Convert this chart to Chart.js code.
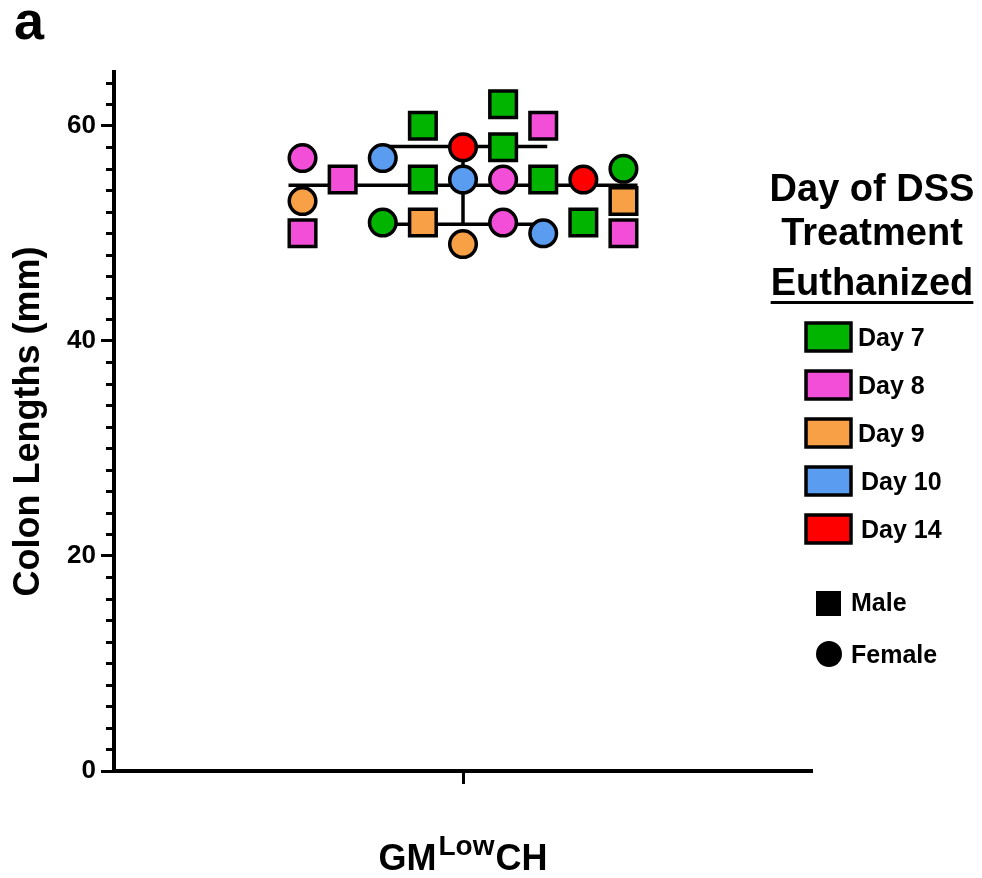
<!DOCTYPE html>
<html>
<head>
<meta charset="utf-8">
<title>Colon lengths</title>
<script src="https://cdn.jsdelivr.net/npm/chart.js@4.4.0/dist/chart.umd.min.js"></script>
<style>
  html, body { margin: 0; padding: 0; background: #fff; }
  #wrap { width: 982px; height: 878px; }
</style>
</head>
<body>
<div id="wrap"><canvas id="myChart" width="982" height="878"></canvas></div>
<script>
// legend groups: day of DSS treatment at euthanasia
const DAY_NUM = [7, 8, 9, 10, 14];
const DAY_COLORS = ["#00B400", "#F24ED8", "#F8A046", "#5A9CF0", "#FF0000"];

// group label: base, superscript, base
const GROUP_LABEL = ["GM", "Low", "CH"];

// one entry per mouse: horizontal slot in the scatter, colon length, day, sex
const SLOT = [-4, -4, -4, -3, -2, -2, -1, -1, -1, 0, 0, 0, 1, 1, 1, 1, 2, 2, 2, 3, 3, 4, 4, 4];
const LENGTH = [57, 53, 50, 55, 57, 51, 60, 55, 51, 58, 55, 49, 62, 58, 55, 51, 60, 55, 50, 55, 51, 56, 53, 50];
const DAY = [8, 9, 8, 8, 10, 7, 7, 7, 9, 14, 10, 9, 7, 7, 8, 8, 8, 7, 10, 14, 7, 7, 9, 8];
const SEX = ["F", "F", "M", "M", "F", "F", "M", "M", "M", "F", "F", "F", "M", "M", "F", "F", "M", "M", "F", "F", "M", "F", "M", "M"];

const Y_TICKS = [0, 20, 40, 60];

const mean = LENGTH.reduce((a, b) => a + b, 0) / LENGTH.length;
const sd = Math.sqrt(LENGTH.reduce((a, v) => a + (v - mean) ** 2, 0) / (LENGTH.length - 1));

const FONT = "'Liberation Sans', Arial, Helvetica, sans-serif";
Chart.defaults.font.family = FONT;
Chart.defaults.color = "#000";

const lineStyle = {
  type: "line",
  showLine: true,
  borderColor: "#000",
  borderWidth: 3.5,
  pointRadius: 0,
  fill: false,
  order: 1,
};

// minor ticks, panel letter, group label and the legend
const decor = {
  id: "decor",
  afterDraw(chart) {
    const ctx = chart.ctx;
    const y = chart.scales.y;
    const x = chart.scales.x;
    const left = chart.chartArea.left;
    const right = chart.chartArea.right;
    ctx.save();

    // minor ticks every 2 mm
    ctx.strokeStyle = "#000";
    ctx.lineWidth = 3;
    for (let v = 2; v <= y.max; v += 2) {
      if (v % 20 === 0) continue;
      const py = Math.round(y.getPixelForValue(v)) + 0.5;
      ctx.beginPath();
      ctx.moveTo(left - 8, py);
      ctx.lineTo(left, py);
      ctx.stroke();
    }

    ctx.fillStyle = "#000";
    ctx.textBaseline = "alphabetic";

    // panel letter
    ctx.font = "bold 54px " + FONT;
    ctx.textAlign = "left";
    ctx.fillText("a", 14, 39);

    // group label with superscript
    const cx = x.getPixelForValue(0);
    const big = "bold 36px " + FONT;
    const small = "bold 28px " + FONT;
    ctx.font = big;
    const w1 = ctx.measureText(GROUP_LABEL[0]).width;
    const w3 = ctx.measureText(GROUP_LABEL[2]).width;
    ctx.font = small;
    const w2 = ctx.measureText(GROUP_LABEL[1]).width;
    let gx = cx - (w1 + w2 + w3 + 3) / 2;
    ctx.font = big;
    ctx.fillText(GROUP_LABEL[0], gx, 870);
    gx += w1 + 2;
    ctx.font = small;
    ctx.fillText(GROUP_LABEL[1], gx, 855);
    gx += w2 + 1;
    ctx.font = big;
    ctx.fillText(GROUP_LABEL[2], gx, 870);

    // legend title
    const lx = right + 60;
    ctx.textAlign = "center";
    ctx.font = "bold 38px " + FONT;
    ctx.fillText("Day of DSS", lx, 201);
    ctx.fillText("Treatment", lx, 245);
    ctx.fillText("Euthanized", lx, 295);
    const tw = ctx.measureText("Euthanized").width;
    ctx.fillRect(lx - tw / 2, 301, tw, 3);

    // colour boxes
    ctx.textAlign = "left";
    ctx.textBaseline = "middle";
    ctx.font = "bold 25px " + FONT;
    DAY_NUM.forEach((d, i) => {
      const by = 337 + i * 48;
      ctx.fillStyle = DAY_COLORS[i];
      ctx.fillRect(806, by - 14, 45, 28);
      ctx.lineWidth = 3.5;
      ctx.strokeStyle = "#000";
      ctx.strokeRect(806, by - 14, 45, 28);
      ctx.fillStyle = "#000";
      ctx.fillText("Day " + d, d >= 10 ? 861 : 858, by + 2);
    });

    // sex symbols
    ctx.fillRect(816, 591, 25, 25);
    ctx.fillText("Male", 851, 604);
    ctx.beginPath();
    ctx.arc(829, 654, 13, 0, Math.PI * 2);
    ctx.fill();
    ctx.fillText("Female", 851, 656);

    ctx.restore();
  },
};

const config = {
  type: "scatter",
  data: {
    datasets: [
      {
        label: "Colon length",
        data: SLOT.map((s, i) => ({ x: s, y: LENGTH[i] })),
        pointStyle: (c) => (SEX[c.dataIndex] === "M" ? "rect" : "circle"),
        pointRadius: (c) => (SEX[c.dataIndex] === "M" ? 18.8 : 13.3),
        pointHoverRadius: (c) => (SEX[c.dataIndex] === "M" ? 18.8 : 13.3),
        backgroundColor: (c) => DAY_COLORS[DAY_NUM.indexOf(DAY[c.dataIndex])],
        borderColor: "#000",
        borderWidth: 3.5,
        order: 0,
      },
      // mean
      Object.assign({ data: [{ x: -4.35, y: mean }, { x: 4.35, y: mean }] }, lineStyle),
      // +/- SD
      Object.assign({ data: [{ x: -2.1, y: mean + sd }, { x: 2.1, y: mean + sd }] }, lineStyle),
      Object.assign({ data: [{ x: -2.1, y: mean - sd }, { x: 2.1, y: mean - sd }] }, lineStyle),
      Object.assign({ data: [{ x: 0, y: mean - sd }, { x: 0, y: mean + sd }] }, lineStyle),
    ],
  },
  options: {
    responsive: false,
    animation: false,
    events: [],
    layout: { padding: { top: 72, right: 170, left: 0, bottom: 0 } },
    plugins: {
      legend: { display: false },
      tooltip: { enabled: false },
    },
    scales: {
      x: {
        type: "linear",
        min: -8.7,
        max: 8.7,
        afterBuildTicks: (s) => { s.ticks = [{ value: 0 }]; },
        afterFit: (s) => { s.height = 107; },
        ticks: { callback: () => "" },
        border: { color: "#000", width: 4 },
        grid: { drawOnChartArea: false, tickLength: 13, tickWidth: 3, tickColor: "#000" },
      },
      y: {
        type: "linear",
        min: 0,
        max: 65,
        afterBuildTicks: (s) => { s.ticks = Y_TICKS.map((v) => ({ value: v })); },
        afterFit: (s) => { s.width = 114; },
        ticks: { font: { size: 26, weight: "bold" }, padding: 5, color: "#000" },
        border: { color: "#000", width: 4 },
        grid: { drawOnChartArea: false, tickLength: 13, tickWidth: 3, tickColor: "#000" },
        title: {
          display: true,
          text: "Colon Lengths (mm)",
          font: { size: 36, weight: "bold" },
          color: "#000",
          padding: { top: 7, bottom: 0 },
        },
      },
    },
  },
  plugins: [decor],
};

const myChart = new Chart(document.getElementById("myChart"), config);
</script>
</body>
</html>
